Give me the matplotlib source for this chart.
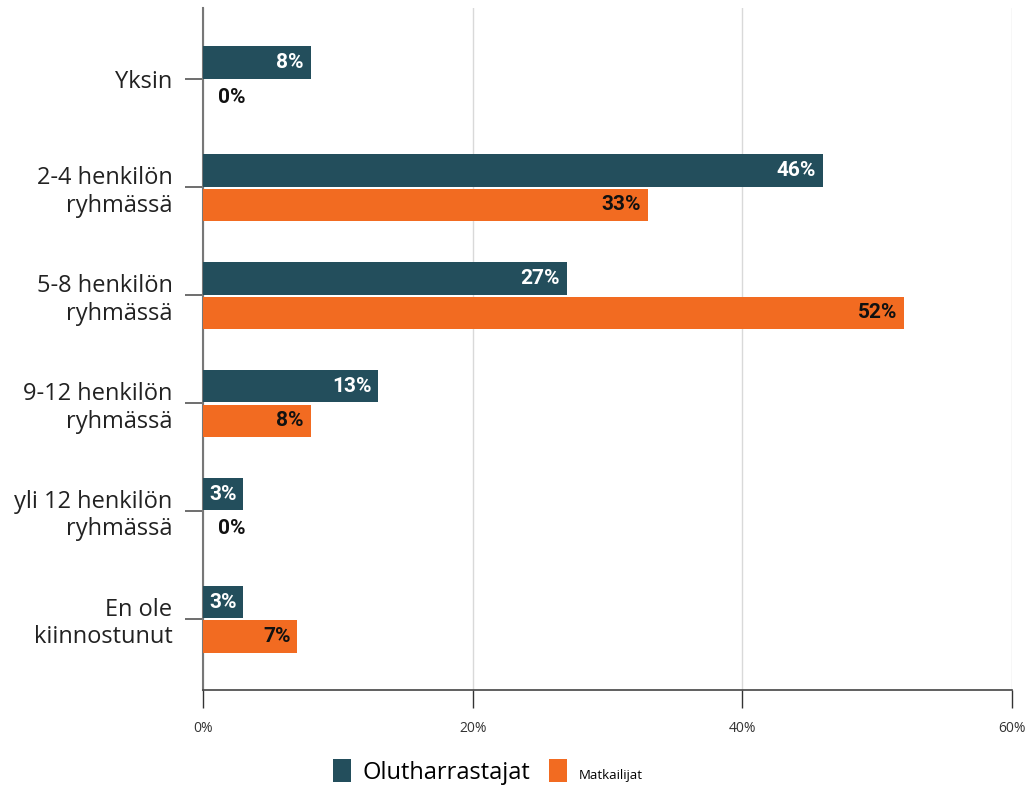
import matplotlib
matplotlib.use("Agg")
import matplotlib.pyplot as plt
import numpy as np

categories = ["Yksin", "2-4 henkilön\nryhmässä", "5-8 henkilön\nryhmässä",
              "9-12 henkilön\nryhmässä", "yli 12 henkilön\nryhmässä", "En ole\nkiinnostunut"]
olut = [8, 46, 27, 13, 3, 3]
matka = [0, 33, 52, 8, 0, 7]
series_names = ["Olutharrastajat", "Matkailijat"]
x_ticks = [0, 20, 40, 60]

DARK = "#234E5C"
ORANGE = "#F26B21"

plt.rcParams["font.family"] = ["Open Sans", "DejaVu Sans"]

fig = plt.figure(figsize=(10.34, 7.85), dpi=100)
ax = fig.add_axes([203 / 1034, 1 - 690 / 785, (1012 - 203) / 1034, 682 / 785])

y = np.arange(len(categories))
h = 0.30
ax.barh(y - 0.155, olut, height=h, color=DARK, label=series_names[0], zorder=3)
ax.barh(y + 0.165, matka, height=h, color=ORANGE, label=series_names[1], zorder=3)


def put_labels(vals, ypos, inside_color):
    for v, yy in zip(vals, ypos):
        if v == 0:
            ax.annotate(f"{v}%", (v, yy), xytext=(11, 0), textcoords="offset points",
                        ha="left", va="center", fontsize=15, fontweight="bold",
                        color="#111111", family="Roboto", zorder=4)
        else:
            ax.annotate(f"{v}%", (v, yy), xytext=(-5, 0), textcoords="offset points",
                        ha="right", va="center", fontsize=15, fontweight="bold",
                        color=inside_color, family="Roboto", zorder=4)


put_labels(olut, y - 0.155, "white")
put_labels(matka, y + 0.165, "#111111")

ax.set_ylim(len(categories) - 1 + 0.66, -0.66)
ax.set_xlim(0, 60)
ax.set_yticks(y)
ax.set_yticklabels(categories, fontsize=17, color="#222222", linespacing=1.2)
ax.set_xticks(x_ticks)
ax.set_xticklabels([f"{t}%" for t in x_ticks], fontsize=10, color="#333333")

ax.tick_params(axis="y", length=13, width=1.2, color="#555555", pad=9)
ax.tick_params(axis="x", length=13, width=1.0, color="#333333", pad=9)
ax.grid(axis="x", color="#d9d9d9", linewidth=1, zorder=0)
for s in ["top", "right"]:
    ax.spines[s].set_visible(False)
ax.spines["left"].set_color("#777777")
ax.spines["left"].set_linewidth(1.5)
ax.spines["bottom"].set_color("#444444")
ax.spines["bottom"].set_linewidth(1.2)

leg = fig.legend(loc="center", bbox_to_anchor=(0.472, 1 - 772 / 785), ncol=2,
                 frameon=False, handlelength=0.75, handleheight=1.1,
                 columnspacing=0.8, handletextpad=0.5, fontsize=17)
leg.get_texts()[1].set_fontsize(9.5)

fig.savefig("out.png", dpi=100)
